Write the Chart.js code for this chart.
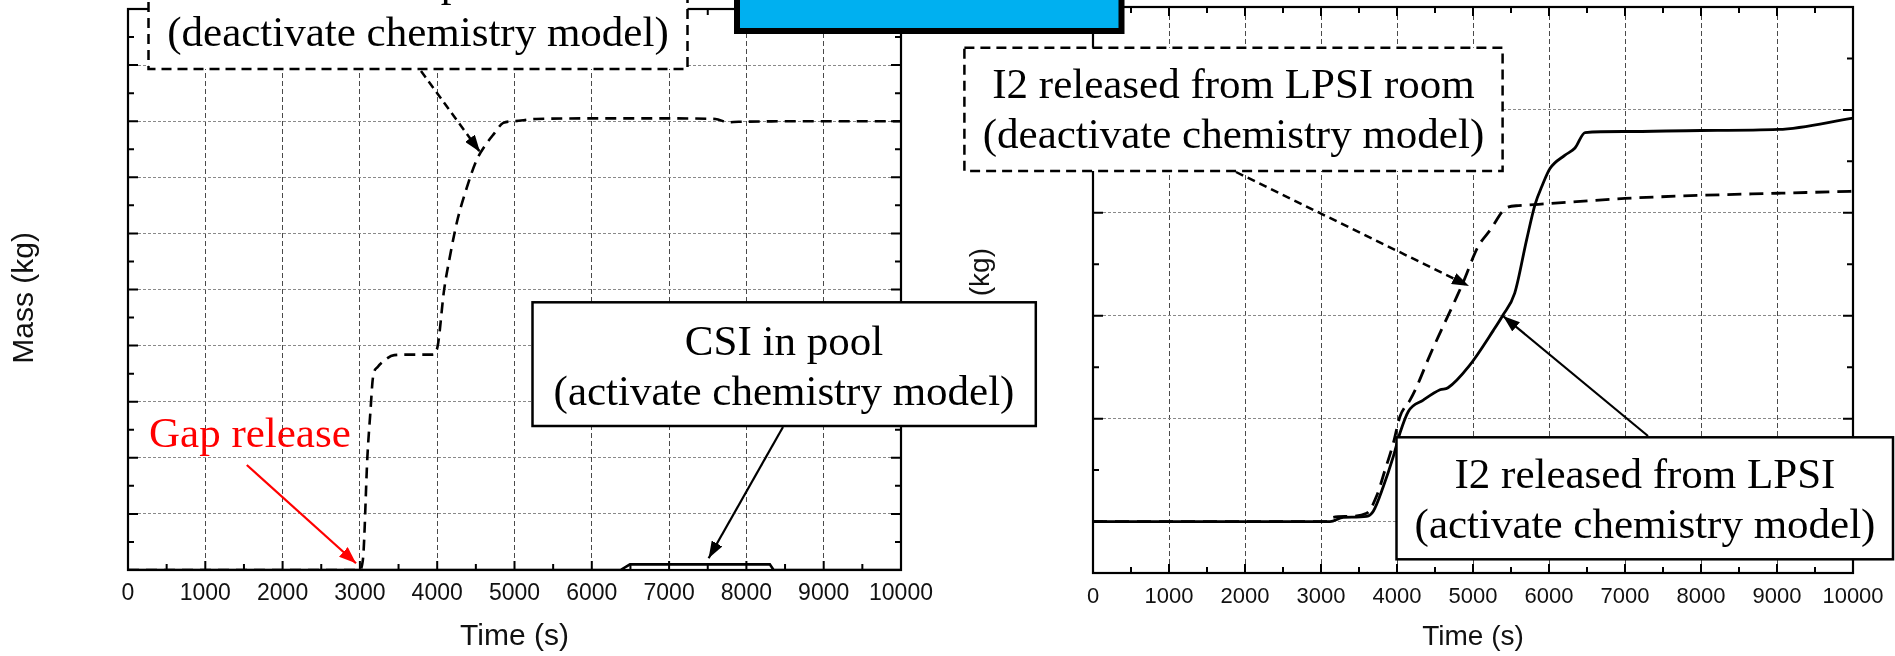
<!DOCTYPE html>
<html>
<head>
<meta charset="utf-8">
<script src="https://cdn.jsdelivr.net/npm/chart.js@4.4.1/dist/chart.umd.min.js"></script>
<style>
html,body{margin:0;padding:0;background:#fff;width:1895px;height:656px;overflow:hidden;}
#c1{position:absolute;left:0;top:0;}
#c2{position:absolute;left:945px;top:0;}
#ann{position:absolute;left:0;top:0;}
</style>
</head>
<body>
<canvas id="c1" width="945" height="656"></canvas>
<canvas id="c2" width="950" height="656"></canvas>
<svg id="ann" width="1895" height="656" xmlns="http://www.w3.org/2000/svg">
  <defs>
    <marker id="ah" markerUnits="userSpaceOnUse" markerWidth="17" markerHeight="12" refX="17" refY="6" orient="auto">
      <path d="M0,0 L17,6 L0,12 z" fill="#000"/>
    </marker>
    <marker id="ahr" markerUnits="userSpaceOnUse" markerWidth="17" markerHeight="13" refX="17" refY="6.5" orient="auto">
      <path d="M0,0 L17,6.5 L0,13 z" fill="#f00"/>
    </marker>
  </defs>
  <g font-family="'Liberation Serif','Times New Roman',serif" font-size="43" text-anchor="middle" fill="#000">
    <!-- left dashed box -->
    <rect x="148.5" y="-60" width="539" height="129" fill="#fff" stroke="#000" stroke-width="2.5" stroke-dasharray="10 6"/>
    <text x="418" y="-4">CSI in pool</text>
    <text x="418" y="46">(deactivate chemistry model)</text>
    <line x1="421" y1="71" x2="480" y2="152" stroke="#000" stroke-width="2.5" stroke-dasharray="8 5" marker-end="url(#ah)"/>
    <!-- blue box -->
    <rect x="737" y="-20" width="384.5" height="51" fill="#00b0f0" stroke="#000" stroke-width="6"/>
    <!-- right dashed box -->
    <rect x="964.4" y="47.7" width="538.2" height="123.3" fill="#fff" stroke="#000" stroke-width="2.5" stroke-dasharray="10 6"/>
    <text x="1233.5" y="98.3">I2 released from LPSI room</text>
    <text x="1233.5" y="148.3">(deactivate chemistry model)</text>
    <line x1="1236" y1="172" x2="1469" y2="286" stroke="#000" stroke-width="2.5" stroke-dasharray="8 5" marker-end="url(#ah)"/>
    <!-- CSI in pool solid box -->
    <rect x="532.5" y="302.3" width="503.3" height="123.7" fill="#fff" stroke="#000" stroke-width="2.5"/>
    <text x="784" y="355">CSI in pool</text>
    <text x="784" y="405">(activate chemistry model)</text>
    <line x1="783" y1="427" x2="708.6" y2="558.3" stroke="#000" stroke-width="2.2" marker-end="url(#ah)"/>
    <!-- right solid box -->
    <rect x="1396.5" y="437.3" width="496.5" height="122" fill="#fff" stroke="#000" stroke-width="2.5"/>
    <text x="1645" y="488">I2 released from LPSI</text>
    <text x="1645" y="538">(activate chemistry model)</text>
    <line x1="1648" y1="436" x2="1503" y2="316" stroke="#000" stroke-width="2.2" marker-end="url(#ah)"/>
    <!-- gap release -->
    <text x="149" y="446.7" text-anchor="start" fill="#f00">Gap release</text>
    <line x1="246.8" y1="465" x2="356" y2="563.3" stroke="#f00" stroke-width="2.2" marker-end="url(#ahr)"/>
  </g>
</svg>
<script>
// ---------- tick labels ----------
const timeTicks = [0, 1000, 2000, 3000, 4000, 5000, 6000, 7000, 8000, 9000, 10000];
const timeMinorTicks = [0, 500, 1000, 1500, 2000, 2500, 3000, 3500, 4000, 4500, 5000, 5500, 6000, 6500, 7000, 7500, 8000, 8500, 9000, 9500, 10000];
const leftMassTicks = [0, 1, 2, 3, 4, 5, 6, 7, 8, 9, 10];
const leftMassMinorTicks = [0, 0.5, 1, 1.5, 2, 2.5, 3, 3.5, 4, 4.5, 5, 5.5, 6, 6.5, 7, 7.5, 8, 8.5, 9, 9.5, 10];
const rightMassTicks = [0, 1, 2, 3, 4, 5];
const rightMassMinorTicks = [-0.5, 0, 0.5, 1, 1.5, 2, 2.5, 3, 3.5, 4, 4.5, 5];

// ---------- left panel: CSI in pool ----------
const leftDeactTime = [0, 2990, 3040, 3097, 3135, 3170, 3230, 3295, 3443, 3700, 3939, 4003, 4088, 4162, 4260, 4384, 4508, 4632, 4731, 4855, 5003, 5275, 6000, 7000, 7600, 7760, 7900, 9000, 10000];
const leftDeactMass = [0, 0, 0.2, 2.02, 2.8, 3.44, 3.62, 3.71, 3.83, 3.84, 3.84, 3.97, 4.98, 5.57, 6.23, 6.82, 7.30, 7.59, 7.77, 7.97, 8.0, 8.04, 8.05, 8.05, 8.04, 7.98, 7.99, 8.0, 8.0];
const leftActTime = [0, 6371, 6494, 8303, 8352, 10000];
const leftActMass = [0, 0, 0.1, 0.1, 0, 0];

// ---------- right panel: I2 released from LPSI ----------
const rightDeactTime = [0, 3100, 3158, 3338, 3601, 3733, 3842, 3951, 4039, 4171, 4259, 4435, 4577, 4790, 4868, 5066, 5224, 5443, 5600, 6013, 7000, 8009, 9013, 10000];
const rightDeactMass = [0, 0, 0.04, 0.05, 0.08, 0.25, 0.50, 0.76, 1.02, 1.18, 1.31, 1.62, 1.85, 2.19, 2.32, 2.67, 2.83, 3.05, 3.07, 3.09, 3.14, 3.17, 3.19, 3.21];
const rightActTime = [0, 3118, 3294, 3601, 3688, 3820, 3951, 4039, 4149, 4346, 4566, 4671, 4947, 5270, 5389, 5549, 5706, 5816, 5908, 6013, 6211, 6342, 6474, 7000, 8000, 9017, 10000];
const rightActMass = [0, 0, 0.04, 0.05, 0.10, 0.34, 0.63, 0.86, 1.07, 1.18, 1.28, 1.30, 1.51, 1.86, 2.0, 2.22, 2.74, 3.08, 3.26, 3.43, 3.56, 3.63, 3.78, 3.79, 3.80, 3.81, 3.92];

const SANS = "'Liberation Sans', Arial, Helvetica, sans-serif";
const NB = '\u00A0';
const pts = (xs, ys) => xs.map((x, i) => ({x: x, y: ys[i]}));

// frame + inward ticks on all four sides
const frameTicks = {
  id: 'frameTicks',
  afterDatasetsDraw(chart, args, o) {
    const {ctx, chartArea: a} = chart;
    const x = chart.scales.x, y = chart.scales.y;
    ctx.save();
    ctx.setLineDash([]);
    ctx.strokeStyle = '#000';
    ctx.lineWidth = 2;
    ctx.beginPath();
    o.xMinor.forEach(v => {
      const px = x.getPixelForValue(v);
      const L = o.xMajor.includes(v) ? 9 : 6;
      ctx.moveTo(px, a.bottom); ctx.lineTo(px, a.bottom - L);
      ctx.moveTo(px, a.top); ctx.lineTo(px, a.top + L);
    });
    o.yMinor.forEach(v => {
      const py = y.getPixelForValue(v);
      const L = o.yMajor.includes(v) ? 10 : 6;
      ctx.moveTo(a.left, py); ctx.lineTo(a.left + L, py);
      ctx.moveTo(a.right, py); ctx.lineTo(a.right - L, py);
    });
    ctx.stroke();
    ctx.lineWidth = 2.2;
    ctx.strokeRect(a.left, a.top, a.right - a.left, a.bottom - a.top);
    ctx.restore();
  }
};

function buildChart(canvasId, p) {
  return new Chart(document.getElementById(canvasId), {
    type: 'line',
    data: {datasets: p.datasets},
    options: {
      responsive: false,
      animation: false,
      devicePixelRatio: 1,
      layout: {padding: {left: 0, right: p.padRight, top: p.padTop, bottom: 0}},
      elements: {line: {cubicInterpolationMode: 'monotone'}, point: {radius: 0}},
      plugins: {
        legend: {display: false},
        tooltip: {enabled: false},
        frameTicks: {xMinor: timeMinorTicks, xMajor: timeTicks, yMinor: p.yMinor, yMajor: p.yMajor}
      },
      scales: {
        x: {
          type: 'linear', min: 0, max: 10000,
          afterBuildTicks: s => { s.ticks = timeTicks.map(v => ({value: v})); },
          afterFit: s => { s.height = p.xHeight; },
          ticks: {callback: v => String(v), padding: p.tickPad, autoSkip: false, maxRotation: 0,
                  font: {family: SANS, size: p.tickSize}, color: '#111'},
          grid: {color: '#4a4a4a', lineWidth: 1, drawTicks: false},
          border: {display: false, dash: [5, 3]},
          title: {display: true, text: 'Time (s)', color: '#111',
                  font: {family: SANS, size: p.titleSize}, padding: {top: 0, bottom: p.xTitlePad}}
        },
        y: {
          type: 'linear', min: p.yMin, max: p.yMax,
          afterBuildTicks: s => { s.ticks = p.yMajor.map(v => ({value: v})); },
          afterFit: s => { s.width = p.yWidth; },
          ticks: {display: false},
          grid: {color: '#8a8a8a', lineWidth: 1, drawTicks: false},
          border: {display: false, dash: [3, 2]},
          title: {display: true, text: 'Mass (kg)' + NB.repeat(p.titleShift), color: '#111',
                  font: {family: SANS, size: p.titleSize}, padding: {top: p.yTitlePad, bottom: 0}}
        }
      }
    },
    plugins: [frameTicks]
  });
}

buildChart('c1', {
  datasets: [
    {label: 'CSI in pool (deactivate chemistry model)', data: pts(leftDeactTime, leftDeactMass),
     borderColor: '#000', borderWidth: 2.6, borderDash: [11, 7], pointRadius: 0, fill: false},
    {label: 'CSI in pool (activate chemistry model)', data: pts(leftActTime, leftActMass),
     borderColor: '#000', borderWidth: 2.6, pointRadius: 0, fill: false, cubicInterpolationMode: 'default', tension: 0}
  ],
  padRight: 44, padTop: 9, xHeight: 86, yWidth: 128,
  yMin: 0, yMax: 10, yMajor: leftMassTicks, yMinor: leftMassMinorTicks,
  tickSize: 23, tickPad: 10, titleSize: 30, xTitlePad: 1, yTitlePad: 7, titleShift: 2
});

buildChart('c2', {
  datasets: [
    {label: 'I2 released from LPSI room (deactivate chemistry model)', data: pts(rightDeactTime, rightDeactMass),
     borderColor: '#000', borderWidth: 2.8, borderDash: [14, 8], pointRadius: 0, fill: false},
    {label: 'I2 released from LPSI (activate chemistry model)', data: pts(rightActTime, rightActMass),
     borderColor: '#000', borderWidth: 2.8, pointRadius: 0, fill: false}
  ],
  padRight: 42, padTop: 7, xHeight: 83, yWidth: 148,
  yMin: -0.5, yMax: 5, yMajor: rightMassTicks, yMinor: rightMassMinorTicks,
  tickSize: 22, tickPad: 11, titleSize: 28, xTitlePad: 2, yTitlePad: 19, titleShift: 5
});
</script>
</body>
</html>
